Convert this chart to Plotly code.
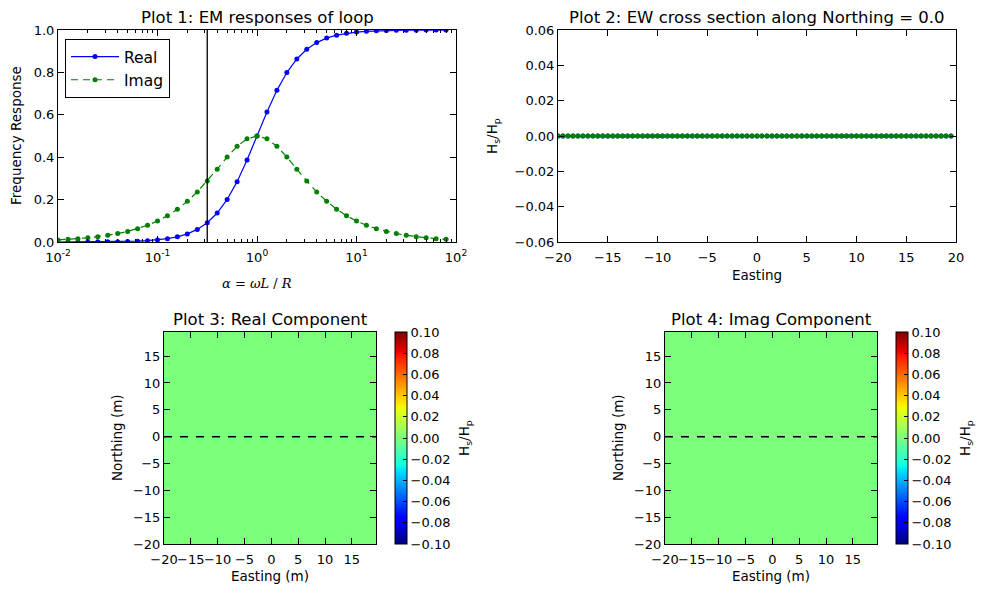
import plotly.graph_objects as go

# ---------------- data ----------------
alpha = [0.01, 0.01259, 0.01585, 0.01995, 0.02512, 0.03162, 0.03981, 0.05012, 0.0631, 0.07943,
         0.1, 0.1259, 0.1585, 0.1995, 0.2512, 0.3162, 0.3981, 0.5012, 0.631, 0.7943,
         1.0, 1.259, 1.585, 1.995, 2.512, 3.162, 3.981, 5.012, 6.31, 7.943,
         10.0, 12.59, 15.85, 19.95, 25.12, 31.62, 39.81, 50.12, 63.1, 79.43]
real_resp = [0.0001, 0.0002, 0.0003, 0.0004, 0.0006, 0.001, 0.0016, 0.0025, 0.004, 0.0063,
             0.0099, 0.0156, 0.0245, 0.0383, 0.0594, 0.0909, 0.1368, 0.2008, 0.2847, 0.3869,
             0.5, 0.6131, 0.7153, 0.7992, 0.8632, 0.9091, 0.9406, 0.9617, 0.9755, 0.9844,
             0.9901, 0.9937, 0.996, 0.9975, 0.9984, 0.999, 0.9994, 0.9996, 0.9997, 0.9998]
imag_resp = [0.01, 0.0126, 0.0158, 0.0199, 0.0251, 0.0316, 0.0398, 0.05, 0.0629, 0.0789,
             0.099, 0.1239, 0.1546, 0.1919, 0.2363, 0.2875, 0.3436, 0.4006, 0.4513, 0.487,
             0.5, 0.487, 0.4513, 0.4006, 0.3436, 0.2875, 0.2363, 0.1919, 0.1546, 0.1239,
             0.099, 0.0789, 0.0628, 0.05, 0.0397, 0.0316, 0.0251, 0.0199, 0.0158, 0.0126]
cutoff_alpha = 0.3162

easting = [-20.0, -19.5, -19.0, -18.5, -18.0, -17.5, -17.0, -16.5, -16.0, -15.5,
           -15.0, -14.5, -14.0, -13.5, -13.0, -12.5, -12.0, -11.5, -11.0, -10.5,
           -10.0, -9.5, -9.0, -8.5, -8.0, -7.5, -7.0, -6.5, -6.0, -5.5,
           -5.0, -4.5, -4.0, -3.5, -3.0, -2.5, -2.0, -1.5, -1.0, -0.5,
           0.0, 0.5, 1.0, 1.5, 2.0, 2.5, 3.0, 3.5, 4.0, 4.5,
           5.0, 5.5, 6.0, 6.5, 7.0, 7.5, 8.0, 8.5, 9.0, 9.5,
           10.0, 10.5, 11.0, 11.5, 12.0, 12.5, 13.0, 13.5, 14.0, 14.5,
           15.0, 15.5, 16.0, 16.5, 17.0, 17.5, 18.0, 18.5, 19.0, 19.5]
northing = list(easting)
real_profile = [0.0, 0.0, 0.0, 0.0, 0.0, 0.0, 0.0, 0.0, 0.0, 0.0,
                0.0, 0.0, 0.0, 0.0, 0.0, 0.0, 0.0, 0.0, 0.0, 0.0,
                0.0, 0.0, 0.0, 0.0, 0.0, 0.0, 0.0, 0.0, 0.0, 0.0,
                0.0, 0.0, 0.0, 0.0, 0.0, 0.0, 0.0, 0.0, 0.0, 0.0,
                0.0, 0.0, 0.0, 0.0, 0.0, 0.0, 0.0, 0.0, 0.0, 0.0,
                0.0, 0.0, 0.0, 0.0, 0.0, 0.0, 0.0, 0.0, 0.0, 0.0,
                0.0, 0.0, 0.0, 0.0, 0.0, 0.0, 0.0, 0.0, 0.0, 0.0,
                0.0, 0.0, 0.0, 0.0, 0.0, 0.0, 0.0, 0.0, 0.0, 0.0]
imag_profile = [0.0, 0.0, 0.0, 0.0, 0.0, 0.0, 0.0, 0.0, 0.0, 0.0,
                0.0, 0.0, 0.0, 0.0, 0.0, 0.0, 0.0, 0.0, 0.0, 0.0,
                0.0, 0.0, 0.0, 0.0, 0.0, 0.0, 0.0, 0.0, 0.0, 0.0,
                0.0, 0.0, 0.0, 0.0, 0.0, 0.0, 0.0, 0.0, 0.0, 0.0,
                0.0, 0.0, 0.0, 0.0, 0.0, 0.0, 0.0, 0.0, 0.0, 0.0,
                0.0, 0.0, 0.0, 0.0, 0.0, 0.0, 0.0, 0.0, 0.0, 0.0,
                0.0, 0.0, 0.0, 0.0, 0.0, 0.0, 0.0, 0.0, 0.0, 0.0,
                0.0, 0.0, 0.0, 0.0, 0.0, 0.0, 0.0, 0.0, 0.0, 0.0]
profile_northing = 0.0
# field maps: every row of the (uniform) field equals the observed profile
real_grid = [list(real_profile) for _ in northing]
imag_grid = [list(imag_profile) for _ in northing]

log_ticks = [0.01, 0.1, 1, 10, 100]
log_tick_text = ["10<sup>-2</sup>", "10<sup>-1</sup>", "10<sup>0</sup>", "10<sup>1</sup>", "10<sup>2</sup>"]
cb_ticks = [-0.1, -0.08, -0.06, -0.04, -0.02, 0.0, 0.02, 0.04, 0.06, 0.08, 0.1]
map_ticks = [-20, -15, -10, -5, 0, 5, 10, 15]

# ---------------- styling ----------------
W, H = 989, 594
FONT = "DejaVu Sans"
BLUE = "rgb(0,0,255)"
GREEN = "rgb(0,128,0)"


def px(x):
    return x / W


def py(y):
    return 1 - y / H


def interp(x, xs, ys):
    for i in range(len(xs) - 1):
        if xs[i] <= x <= xs[i + 1]:
            t = (x - xs[i]) / (xs[i + 1] - xs[i]) if xs[i + 1] > xs[i] else 0
            return ys[i] + t * (ys[i + 1] - ys[i])
    return ys[-1]


# matplotlib "jet" segment definitions
R_SEG = ([0, 0.35, 0.66, 0.89, 1], [0, 0, 1, 1, 0.5])
G_SEG = ([0, 0.125, 0.375, 0.64, 0.91, 1], [0, 0, 1, 1, 0, 0])
B_SEG = ([0, 0.11, 0.34, 0.65, 1], [0.5, 1, 1, 0, 0])
stops = sorted(set(R_SEG[0] + G_SEG[0] + B_SEG[0]))
jet = []
for s in stops:
    r = round(255 * interp(s, *R_SEG))
    g = round(255 * interp(s, *G_SEG))
    b = round(255 * interp(s, *B_SEG))
    jet.append([s, f"rgb({r},{g},{b})"])

axis_common = dict(showline=True, linecolor="black", linewidth=1, mirror="ticks",
                   ticks="inside", ticklen=6, tickcolor="black", showgrid=False,
                   zeroline=False, automargin=False, tickangle=0,
                   tickfont=dict(size=13, color="black", family=FONT))
xaxis_extra = dict(ticklabelstandoff=3)

# domains (pixels -> paper)
d1x = [px(58), px(456)]
d2x = [px(558), px(956)]
dty = [py(242), py(30)]
d3x = [px(164), px(376)]
SH = 501
d4x = [px(164 + SH), px(376 + SH)]
dby = [py(544), py(332)]

fig = go.Figure()

# Plot 1
fig.add_trace(go.Scatter(x=alpha, y=real_resp, mode="lines+markers", name="Real",
                         line=dict(color=BLUE, width=1.2), marker=dict(color=BLUE, size=5),
                         xaxis="x", yaxis="y"))
fig.add_trace(go.Scatter(x=alpha, y=imag_resp, mode="lines+markers", name="Imag",
                         line=dict(color=GREEN, width=1.2, dash="7px,5px"),
                         marker=dict(color=GREEN, size=5), xaxis="x", yaxis="y"))
fig.add_trace(go.Scatter(x=[cutoff_alpha, cutoff_alpha], y=[0, 1], mode="lines",
                         line=dict(color="black", width=1.3), showlegend=False,
                         xaxis="x", yaxis="y", hoverinfo="skip"))

# Plot 2
fig.add_trace(go.Scatter(x=easting, y=real_profile, mode="lines+markers", showlegend=False,
                         line=dict(color=BLUE, width=1.2), marker=dict(color=BLUE, size=5),
                         xaxis="x2", yaxis="y2"))
fig.add_trace(go.Scatter(x=easting, y=imag_profile, mode="lines+markers", showlegend=False,
                         line=dict(color=GREEN, width=1.2), marker=dict(color=GREEN, size=5),
                         xaxis="x2", yaxis="y2"))

cb_common = dict(thickness=12, len=(544 - 332) / H, lenmode="fraction", y=py(438), yanchor="middle",
                 xanchor="left", xpad=0, ypad=0, outlinecolor="black", outlinewidth=1,
                 tickmode="array", tickvals=cb_ticks, tickformat=".2f", ticks="inside",
                 ticklen=4, tickcolor="black", tickfont=dict(size=13, color="black", family=FONT))

# Plot 3
fig.add_trace(go.Heatmap(x=easting, y=northing, z=real_grid, colorscale=jet, zmin=-0.1, zmax=0.1,
                         colorbar=dict(x=px(395), **cb_common), xaxis="x3", yaxis="y3"))
fig.add_trace(go.Scatter(x=easting, y=[profile_northing for _ in easting], mode="lines",
                         line=dict(color="black", width=1.5, dash="8px,8px"), showlegend=False,
                         xaxis="x3", yaxis="y3", hoverinfo="skip"))
# Plot 4
fig.add_trace(go.Heatmap(x=easting, y=northing, z=imag_grid, colorscale=jet, zmin=-0.1, zmax=0.1,
                         colorbar=dict(x=px(395 + SH), **cb_common), xaxis="x4", yaxis="y4"))
fig.add_trace(go.Scatter(x=easting, y=[profile_northing for _ in easting], mode="lines",
                         line=dict(color="black", width=1.5, dash="8px,8px"), showlegend=False,
                         xaxis="x4", yaxis="y4", hoverinfo="skip"))

fig.update_layout(
    width=W, height=H, margin=dict(l=0, r=0, t=0, b=0, autoexpand=False),
    paper_bgcolor="white", plot_bgcolor="white",
    font=dict(family=FONT, color="black", size=13),
    xaxis=dict(domain=d1x, anchor="y", type="log", range=[-2, 2], tickmode="array",
               tickvals=log_ticks, ticktext=log_tick_text,
               minor=dict(ticks="inside", ticklen=3, tickcolor="black",
                          tickvals=[m * 10 ** e for e in (-2, -1, 0, 1) for m in range(2, 10)]),
               **axis_common, **xaxis_extra),
    yaxis=dict(domain=dty, anchor="x", range=[0, 1], tickmode="array",
               tickvals=[0, 0.2, 0.4, 0.6, 0.8, 1.0], tickformat=".1f", **axis_common),
    xaxis2=dict(domain=d2x, anchor="y2", range=[-20, 20], tickmode="array",
                tickvals=[-20, -15, -10, -5, 0, 5, 10, 15, 20], **axis_common, **xaxis_extra),
    yaxis2=dict(domain=dty, anchor="x2", range=[-0.06, 0.06], tickmode="array",
                tickvals=[-0.06, -0.04, -0.02, 0, 0.02, 0.04, 0.06], tickformat=".2f", **axis_common),
    xaxis3=dict(domain=d3x, anchor="y3", range=[-20, 19.5], tickmode="array", tickvals=map_ticks,
                **axis_common, **xaxis_extra),
    yaxis3=dict(domain=dby, anchor="x3", range=[-20, 19.5], tickmode="array", tickvals=map_ticks, **axis_common),
    xaxis4=dict(domain=d4x, anchor="y4", range=[-20, 19.5], tickmode="array", tickvals=map_ticks,
                **axis_common, **xaxis_extra),
    yaxis4=dict(domain=dby, anchor="x4", range=[-20, 19.5], tickmode="array", tickvals=map_ticks, **axis_common),
    legend=dict(x=px(65), y=py(39), xanchor="left", yanchor="top", bgcolor="white",
                bordercolor="black", borderwidth=1, font=dict(size=15.5, family=FONT, color="black"),
                tracegroupgap=0, itemwidth=48),
    showlegend=True,
)

ann = []


def add_text(text, x, y, size=13.5, angle=0, family=FONT):
    ann.append(dict(text=text, x=px(x), y=py(y), xref="paper", yref="paper", showarrow=False,
                    xanchor="center", yanchor="middle", textangle=angle,
                    font=dict(size=size, family=family, color="black")))


# titles
add_text("Plot 1: EM responses of loop", 257, 18, size=16.5)
add_text("Plot 2: EW cross section along Northing = 0.0", 757, 18, size=16.5)
add_text("Plot 3: Real Component", 270, 319, size=16.5)
add_text("Plot 4: Imag Component", 270 + SH, 319, size=16.5)
# axis labels
add_text("Frequency Response", 16, 136, angle=-90)
add_text("<i>α</i> = <i>ωL</i> / <i>R</i>", 257, 283, size=13, family="DejaVu Serif")
add_text("H<sub>s</sub>/H<sub>p</sub>", 493, 136, angle=-90)
add_text("Easting", 757, 275)
add_text("Northing (m)", 117, 438, angle=-90)
add_text("Easting (m)", 270, 576)
add_text("Northing (m)", 117 + SH, 438, angle=-90)
add_text("Easting (m)", 270 + SH, 576)
add_text("H<sub>s</sub>/H<sub>p</sub>", 465, 438, angle=-90)
add_text("H<sub>s</sub>/H<sub>p</sub>", 465 + SH, 438, angle=-90)
fig.update_layout(annotations=ann)

fig.write_html("out.html")
